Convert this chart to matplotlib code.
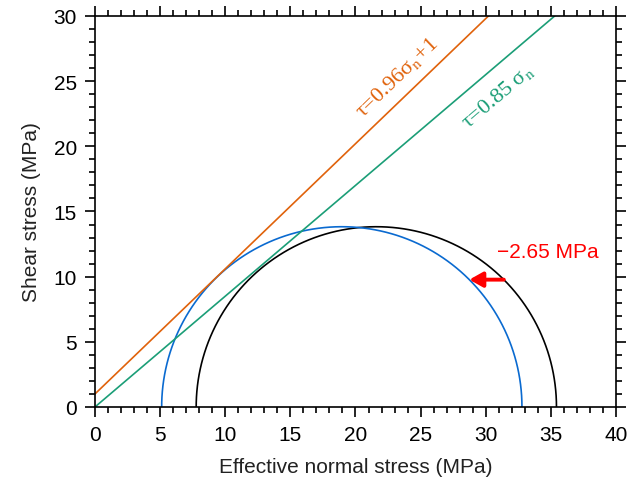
import matplotlib
matplotlib.use("Agg")
import matplotlib.pyplot as plt
import numpy as np

# Mohr circles (MPa)
center_before = 21.6
center_after = 18.95
radius = 13.83
shift_label = "\u22122.65 MPa"

# failure envelopes tau = mu*sigma + c
mu_1, c_1 = 0.96, 1.0
mu_2, c_2 = 0.85, 0.0

plt.rcParams['font.family'] = ['Liberation Sans', 'DejaVu Sans']
plt.rcParams['mathtext.fontset'] = 'stix'

fig = plt.figure(figsize=(6.4, 4.85), dpi=100)
ax = fig.add_axes([0.1484, 0.1588, 0.8141, 0.8062])

th = np.linspace(0, np.pi, 400)
ax.plot(center_before + radius*np.cos(th), radius*np.sin(th), color='black', lw=1.2)
ax.plot(center_after + radius*np.cos(th), radius*np.sin(th), color='#0a6ad0', lw=1.2)

xs = np.linspace(0, 40, 10)
ax.plot(xs, mu_1*xs + c_1, color='#e0620b', lw=1.2)
ax.plot(xs, mu_2*xs + c_2, color='#1b9e77', lw=1.2)

ang1 = np.degrees(np.arctan(mu_1))
ang2 = np.degrees(np.arctan(mu_2))
ax.text(23.2, 25.3, '\u03c4=0.96\u03c3$_{\\rm n}$+1', color='#e0620b', fontsize=16,
        family='Liberation Serif', rotation=ang1, ha='center', va='center',
        rotation_mode='anchor')
ax.text(30.9, 23.9, '\u03c4=0.85 \u03c3$_{\\rm n}$', color='#1b9e77', fontsize=16,
        family='Liberation Serif', rotation=ang2, ha='center', va='center',
        rotation_mode='anchor')

y_arr = 9.77
x0 = center_before + np.sqrt(radius**2 - y_arr**2)
x1 = center_after + np.sqrt(radius**2 - y_arr**2)
ax.annotate('', xy=(x1, y_arr), xytext=(x0, y_arr),
            arrowprops=dict(arrowstyle='-|>,head_length=0.8,head_width=0.45',
                            color='red', lw=2.8, shrinkA=0, shrinkB=0))
ax.text(30.9, 11.9, shift_label, color='red', fontsize=15, ha='left', va='center')

ax.set_xlim(0, 40)
ax.set_ylim(0, 30)
ax.set_xticks(np.arange(0, 41, 5))
ax.set_yticks(np.arange(0, 31, 5))
ax.set_xticks(np.arange(0, 41, 1), minor=True)
ax.set_yticks(np.arange(0, 31, 1), minor=True)
ax.tick_params(which='both', direction='out', top=True, right=True, width=1.2,
               labelsize=15, colors='black', pad=6)
ax.tick_params(which='major', length=7)
ax.tick_params(which='minor', length=4)
for s in ax.spines.values():
    s.set_linewidth(1.2)
ax.set_xlabel('Effective normal stress (MPa)', fontsize=15, labelpad=9, color='#222222')
ax.set_ylabel('Shear stress (MPa)', fontsize=15, labelpad=9, color='#222222')

fig.savefig('out.png', dpi=100)
